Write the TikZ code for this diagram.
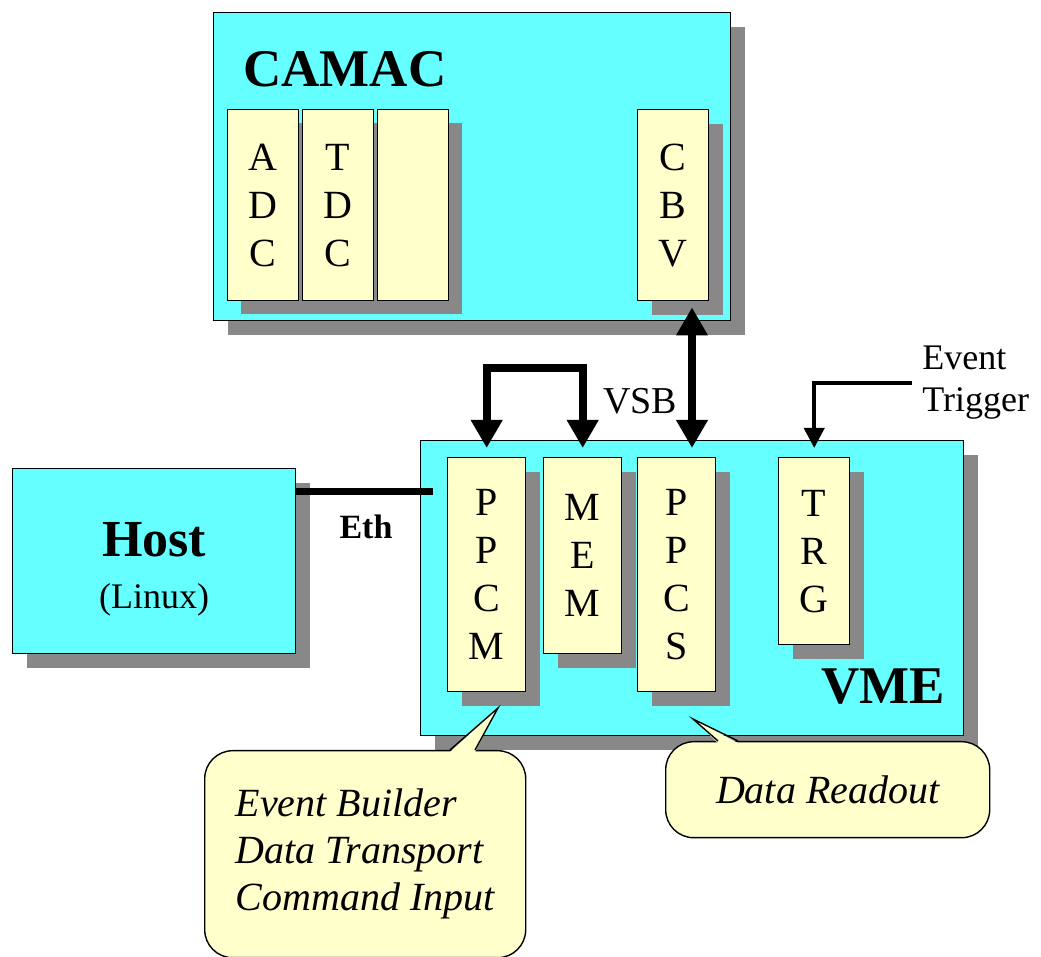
\documentclass[tikz,border=0pt]{standalone}
\usepackage{fontspec}
\setmainfont{Liberation Serif}
\usetikzlibrary{shadows,arrows.meta,positioning}

\definecolor{cratecol}{RGB}{102,255,255}
\definecolor{cardcol}{RGB}{255,255,204}
\definecolor{shadecol}{RGB}{136,136,136}

\begin{document}
\begin{tikzpicture}[x=0.5pt,y=-0.5pt,
    plain/.style={draw=black, line width=0.7pt, fill=cratecol, anchor=north west, inner sep=0pt},
    shade/.style={drop shadow={shadow xshift=7pt, shadow yshift=-7pt, fill=shadecol, opacity=1}},
    crate/.style={plain, shade},
    slot/.style={plain, fill=cardcol, align=center, font=\fontsize{20}{24}\selectfont},
    card/.style={slot, shade},
    title/.style={font=\fontsize{26.5}{30}\selectfont\bfseries, inner sep=0pt},
    note/.style={draw=black, fill=cardcol, line width=0.7pt, rounded corners=14pt,
        anchor=north west, align=left, font=\fontsize{20}{23.5}\selectfont\itshape},
    bus/.style={line width=4pt, >={Triangle[width=15pt,length=14pt]}},
    trig/.style={line width=2pt, >={Triangle[width=10pt,length=10pt]}},
    ]
    \useasboundingbox (0,0) rectangle (1041,957);

    % crates
    \node[crate, minimum width=258.5pt, minimum height=154pt] (camac) at (213,12) {};
    \node[crate, minimum width=271.5pt, minimum height=147.5pt] (vme) at (420,440) {};
    \node[crate, minimum width=141.5pt, minimum height=92.5pt] (host) at (12,468) {};
    \node[align=center, font=\fontsize{18}{22}\selectfont] (hosttext) at ([yshift=-4pt]host.center)
        {{\fontsize{26}{30}\selectfont\bfseries Host}\\[4pt](Linux)};
    \node[title, anchor=west] (camactitle) at ([xshift=15pt,yshift=-28.5pt]camac.north west) {CAMAC};
    \node[title, anchor=east] (vmetitle) at ([xshift=-9.5pt,yshift=25pt]vme.south east) {VME};

    % CAMAC modules (one shadow under the first three)
    \fill[shadecol] (241,123) rectangle (462,314);
    \node[slot, minimum width=35.5pt, minimum height=95.5pt] (adc) at (227,109) {A\\D\\C};
    \node[slot, minimum width=35.5pt, minimum height=95.5pt] (tdc) at (302,109) {T\\D\\C};
    \node[slot, minimum width=35.5pt, minimum height=95.5pt] (spare) at (377,109) {};
    \node[card, minimum width=35.5pt, minimum height=95.5pt] (cbv) at (637,109) {C\\B\\V};

    % VME modules
    \node[card, minimum width=39pt, minimum height=117pt] (ppcm) at (447,457) {P\\P\\C\\M};
    \node[card, minimum width=39pt, minimum height=98pt] (mem) at (543,457) {M\\E\\M};
    \node[card, minimum width=39pt, minimum height=117pt] (ppcs) at (637,457) {P\\P\\C\\S};
    \node[card, minimum width=35.5pt, minimum height=93.5pt] (trg) at (778,457) {T\\R\\G};

    % links
    \coordinate (ethend) at (433,492);
    \draw[line width=3.5pt] (host.east |- ethend) -- (ethend);
    \node[font=\fontsize{17}{20}\selectfont\bfseries] (ethlabel) at (366,527) {Eth};

    \coordinate (vsbtop) at (0,368);
    \draw[bus, <->, shorten <=4.5pt, shorten >=4.5pt] (ppcm.north) -- (ppcm.north |- vsbtop)
        -- (mem.north |- vsbtop) -- (mem.north);
    \node[font=\fontsize{19}{22}\selectfont] (vsblabel) at (640,401) {VSB};

    \coordinate (busx) at (692,0);
    \draw[bus, <->, shorten <=3pt, shorten >=4.5pt] (cbv.south -| busx) -- (ppcs.north -| busx);

    \node[anchor=west, align=left, inner sep=5pt, font=\fontsize{18}{21}\selectfont]
        (trigger) at (912,383) {Event\\Trigger};
    \draw[trig, ->, shorten >=4.5pt] (trigger.west) -| (trg.north);

    % call-outs
    \node[note, minimum width=160.5pt, minimum height=103.5pt] (builder) at (204,750)
        {Event Builder\\Data Transport\\Command Input};
    \coordinate (buildertip) at (498,708);
    \fill[cardcol] ([xshift=123pt,yshift=-1pt]builder.north west) -- (buildertip)
        -- ([xshift=135.5pt,yshift=-1pt]builder.north west) -- cycle;
    \draw[line width=0.7pt] ([xshift=123pt]builder.north west) -- (buildertip)
        -- ([xshift=135.5pt]builder.north west);

    \node[note, minimum width=162pt, minimum height=48pt] (readout) at (665,741) {Data Readout};
    \coordinate (readouttip) at (693,719);
    \fill[cardcol] ([xshift=26.5pt,yshift=-1pt]readout.north west) -- (readouttip)
        -- ([xshift=36.5pt,yshift=-1pt]readout.north west) -- cycle;
    \draw[line width=0.7pt] ([xshift=26.5pt]readout.north west) -- (readouttip)
        -- ([xshift=36.5pt]readout.north west);
\end{tikzpicture}
\end{document}
